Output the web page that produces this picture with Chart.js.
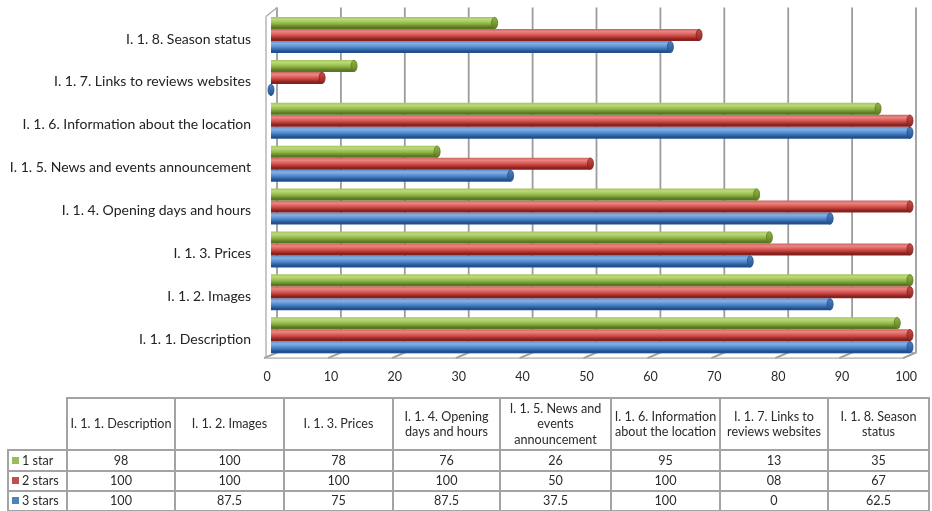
<!DOCTYPE html>
<html>
<head>
<meta charset="utf-8">
<script src="https://cdn.jsdelivr.net/npm/chart.js@4.4.1/dist/chart.umd.min.js"></script>
<style>
  html, body { margin: 0; padding: 0; background: #fff; }
  #wrap { position: relative; width: 932px; height: 511px; overflow: hidden; }
  #chart { position: absolute; left: 0; top: 0; }
  #tbl {
    position: absolute; left: 7px; top: 397px;
    border-collapse: collapse; table-layout: fixed;
    font-family: Lato, "Open Sans", sans-serif; font-size: 12.6px; color: #2a2a2a;
  }
  #tbl th, #tbl td {
    border: 2px solid #a3a3a3; text-align: center; font-weight: normal;
    padding: 0 1px; line-height: 15.5px; overflow: hidden;
  }
  #tbl th.corner { border-top: none; border-left: none; }
  #tbl td.name { text-align: left; padding: 0 1px 0 3px; white-space: nowrap; }
  #tbl .key { display: inline-block; width: 7px; height: 7px; margin-right: 3px; vertical-align: 1px; }
</style>
</head>
<body>
<div id="wrap">
  <canvas id="chart" width="932" height="511"></canvas>
  <table id="tbl"></table>
</div>
<script>
// Criteria rated for each website group
const categories = [
  'I. 1. 1. Description',
  'I. 1. 2. Images',
  'I. 1. 3. Prices',
  'I. 1. 4. Opening days and hours',
  'I. 1. 5. News and events announcement',
  'I. 1. 6. Information about the location',
  'I. 1. 7. Links to reviews websites',
  'I. 1. 8. Season status'
];
const seriesNames = ['1 star', '2 stars', '3 stars'];

// Percentages as written in the data table
const oneStar    = ['98', '100', '78', '76', '26', '95', '13', '35'];
const twoStars   = ['100', '100', '100', '100', '50', '100', '08', '67'];
const threeStars = ['100', '87.5', '75', '87.5', '37.5', '100', '0', '62.5'];

const valueTicks = [0, 10, 20, 30, 40, 50, 60, 70, 80, 90, 100];

const series = [oneStar, twoStars, threeStars];

// Cylinder shading per series: top edge, highlight, body, bottom edge, end cap
const palette = [
  { key: '#9bbb59', light: '#a3c45e', hi: '#bcd97a', mid: '#8fb545', dark: '#5a7823', cap: '#7a9b34' },
  { key: '#c0504d', light: '#cc625f', hi: '#ea8783', mid: '#d24b47', dark: '#86211e', cap: '#ab3a37' },
  { key: '#4f81bd', light: '#5f8fc9', hi: '#86b0e4', mid: '#4a84cb', dark: '#22508b', cap: '#386aab' }
];

function cylinderFill(c, i) {
  const p = palette[i];
  const el = c.element;
  if (!el || !isFinite(el.y) || !el.height) return p.mid;
  const top = el.y - el.height / 2, bottom = el.y + el.height / 2;
  const g = c.chart.ctx.createLinearGradient(0, top, 0, bottom);
  g.addColorStop(0, p.light);
  g.addColorStop(0.22, p.hi);
  g.addColorStop(0.55, p.mid);
  g.addColorStop(0.85, p.dark);
  g.addColorStop(1, p.dark);
  return g;
}

// Back wall, floor and left wall of the 3-D frame, placed from the value scale
const framePlugin = {
  id: 'frame3d',
  beforeDatasetsDraw(chart) {
    const ctx = chart.ctx, xs = chart.scales.x, a = chart.chartArea;
    const back = 6, front = -5;
    const backTop = a.top - 6, backBottom = a.bottom - 4, frontBottom = a.bottom + 1.5;
    ctx.save();
    ctx.strokeStyle = '#9c9c9c';
    ctx.lineWidth = 1.8;
    valueTicks.forEach(v => {
      const xp = xs.getPixelForValue(v);
      ctx.beginPath();
      ctx.moveTo(xp + back, backTop);
      ctx.lineTo(xp + back, backBottom);
      ctx.lineTo(xp + front - 2, frontBottom);
      ctx.stroke();
    });
    ctx.lineWidth = 1.3;
    ctx.strokeStyle = '#ababab';
    const x0 = xs.getPixelForValue(0), x100 = xs.getPixelForValue(100);
    ctx.beginPath();
    ctx.moveTo(x0 + back, backBottom); ctx.lineTo(x100 + back, backBottom);
    ctx.moveTo(x0 + front, frontBottom); ctx.lineTo(x100 + front, frontBottom);
    ctx.moveTo(x0 + front, a.top + 3); ctx.lineTo(x0 + front, frontBottom);
    ctx.moveTo(x0 + front, a.top + 3); ctx.lineTo(x0 + back, backTop);
    ctx.stroke();
    ctx.restore();
  }
};

// Rounded end caps on each cylinder
const capPlugin = {
  id: 'caps',
  afterDatasetsDraw(chart) {
    const ctx = chart.ctx;
    chart.data.datasets.forEach((ds, i) => {
      const p = palette[i];
      chart.getDatasetMeta(i).data.forEach(el => {
        const r = el.height / 2;
        const g = ctx.createLinearGradient(0, el.y - r, 0, el.y + r);
        g.addColorStop(0, p.mid);
        g.addColorStop(0.5, p.cap);
        g.addColorStop(1, p.dark);
        ctx.save();
        ctx.beginPath();
        ctx.ellipse(el.x, el.y, 3, r - 0.3, 0, 0, Math.PI * 2);
        ctx.fillStyle = g;
        ctx.fill();
        ctx.lineWidth = 0.8;
        ctx.strokeStyle = p.dark;
        ctx.stroke();
        ctx.restore();
      });
    });
  }
};

const chart = new Chart(document.getElementById('chart'), {
  type: 'bar',
  data: {
    labels: categories,
    datasets: series.map((s, i) => ({
      label: seriesNames[i],
      data: s.map(Number),
      backgroundColor: c => cylinderFill(c, i),
      borderWidth: 0,
      categoryPercentage: 0.84,
      barPercentage: 1.0
    }))
  },
  options: {
    indexAxis: 'y',
    responsive: false,
    animation: false,
    layout: { padding: { left: 0, right: 22, top: 13.6, bottom: 124.4 } },
    plugins: { legend: { display: false }, tooltip: { enabled: false } },
    scales: {
      x: {
        min: 0, max: 100,
        afterBuildTicks(scale) { scale.ticks = valueTicks.map(v => ({ value: v })); },
        ticks: { padding: 13, labelOffset: -4, color: '#2a2a2a', font: { family: 'Lato', size: 12.5 } },
        grid: { display: false, drawTicks: false },
        border: { display: false },
        afterFit(scale) { scale.height = 30; scale.paddingLeft = 0; scale.paddingRight = 0; }
      },
      y: {
        reverse: true,
        ticks: { padding: 20, labelOffset: 4, color: '#222', font: { family: 'Lato', size: 14 } },
        grid: { display: false, drawTicks: false },
        border: { display: false },
        afterFit(scale) { scale.width = 271; scale.paddingTop = 0; scale.paddingBottom = 0; }
      }
    }
  },
  plugins: [framePlugin, capPlugin]
});
// second pass so the gradients pick up the laid-out bar geometry
chart.update();

// Data table under the chart
(function buildTable() {
  const widths = [59, 108, 109, 109, 107, 111, 109, 108, 101];
  const tbl = document.getElementById('tbl');
  let html = '<colgroup>' + widths.map(w => `<col style="width:${w}px">`).join('') + '</colgroup>';
  html += '<tr style="height:52px"><th class="corner"></th>' +
    categories.map(c => `<th>${c}</th>`).join('') + '</tr>';
  const rowHeights = [21, 20, 20];
  series.forEach((s, i) => {
    html += `<tr style="height:${rowHeights[i]}px"><td class="name"><span class="key" style="background:${palette[i].key}"></span>${seriesNames[i]}</td>` +
      s.map(v => `<td>${v}</td>`).join('') + '</tr>';
  });
  tbl.innerHTML = html;
})();
</script>
</body>
</html>
